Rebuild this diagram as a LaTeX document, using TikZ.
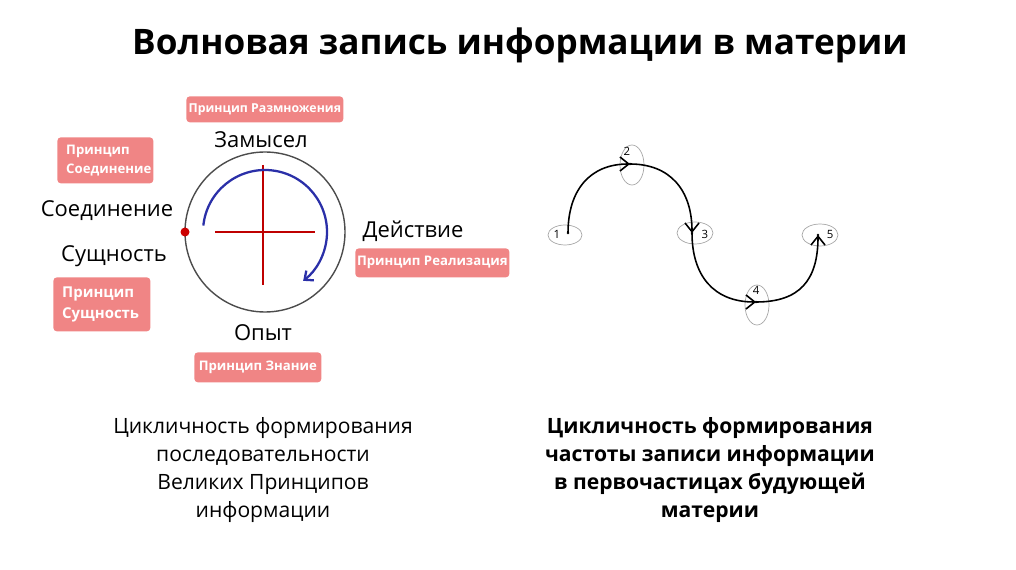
\documentclass[tikz,border=0pt]{standalone}
\usepackage{fontspec}
\setmainfont{Open Sans}
\usetikzlibrary{arrows.meta,calc}
\definecolor{boxc}{HTML}{F08585}
\definecolor{arcb}{HTML}{2A2FA8}
\begin{document}
\begin{tikzpicture}[x=0.02cm,y=-0.02cm,
  pbox/.style={fill=boxc,rounded corners=2pt,text=white,font=\fontsize{7.5}{9}\selectfont\bfseries,align=left,inner sep=0pt,anchor=north west},
  lab/.style={font=\fontsize{12.5}{14}\selectfont},
  btext/.style={font=\fontsize{12}{16}\selectfont,align=center},
  ell/.style={draw=gray!70,line width=0.4pt},
  wave/.style={line width=0.9pt,-{Straight Barb[length=5pt,width=8pt]}},
  num/.style={font=\fontsize{6.5}{7}\selectfont}]
\useasboundingbox (0,0) rectangle (1016,570);
\node[font=\fontsize{20}{24}\selectfont\bfseries] (title) at (520,45) {Волновая запись информации в материи};
% circle
\coordinate (c) at (265,232);
\draw[gray!60!black,line width=0.8pt] (c) circle[radius=80];
\draw[red!75!black,line width=0.6pt] (215,232) -- (315,232) (263,165) -- (263,285);
\draw[arcb,line width=1.3pt,-{Straight Barb[length=4pt,width=7pt]}] ($(c)+(-174:62)$) arc[start angle=-174,end angle=52,radius=62];
\fill[red!80!black] (185,232) circle[radius=4.5];
% boxes
\node[pbox,minimum width=157*0.02cm,minimum height=26*0.02cm] (b1) at (186,96) {};
\node[text=white,font=\fontsize{7}{9}\selectfont\bfseries] at (b1.center) {Принцип Размножения};
\node[pbox,minimum width=96*0.02cm,minimum height=46*0.02cm] (b2) at (57,137) {};
\node[text=white,font=\fontsize{7.5}{11}\selectfont\bfseries,align=left,anchor=west] at ($(b2.west)+(3,0)$) {Принцип\\Соединение};
\node[pbox,minimum width=154*0.02cm,minimum height=29*0.02cm] (b3) at (355,248) {};
\node[text=white,font=\fontsize{7.5}{9}\selectfont\bfseries] at (b3.center) {Принцип Реализация};
\node[pbox,minimum width=97*0.02cm,minimum height=54*0.02cm] (b4) at (53,277) {};
\node[text=white,font=\fontsize{8.5}{12}\selectfont\bfseries,align=left,anchor=west] at ($(b4.west)+(3,0)$) {Принцип\\Сущность};
\node[pbox,minimum width=127*0.02cm,minimum height=30*0.02cm] (b5) at (194,352) {};
\node[text=white,font=\fontsize{7.5}{9}\selectfont\bfseries] at (b5.center) {Принцип Знание};
% labels
\node[lab] (l1) at (261,140) {Замысел};
\node[lab] (l2) at (107,211) {Соединение};
\node[lab] (l3) at (114,256) {Сущность};
\node[lab] (l4) at (413,231) {Действие};
\node[lab] (l5) at (263,333) {Опыт};
% bottom texts
\node[btext] (t1) at (263,470) {Цикличность формирования\\последовательности\\Великих Принципов\\информации};
\node[btext,font=\fontsize{12}{16}\selectfont\bfseries] (t2) at (710,470) {Цикличность формирования\\частоты записи информации\\в первочастицах будующей\\материи};
% wave
\coordinate (p1) at (568,233);
\coordinate (p2) at (630,164);
\coordinate (p3) at (692,233);
\coordinate (p4) at (756,302);
\coordinate (p5) at (818,235);
\draw[ell] (565,235) ellipse[x radius=17,y radius=10];
\draw[ell] (632,165) ellipse[x radius=12,y radius=20];
\draw[ell] (695,233) ellipse[x radius=18,y radius=11];
\draw[ell] (757,305) ellipse[x radius=12,y radius=20];
\draw[ell] (820,235) ellipse[x radius=18,y radius=11];
\draw[wave] (p1) .. controls (568,190) and (590,164) .. (p2);
\draw[wave] (p2) .. controls (670,164) and (692,190) .. (p3);
\draw[wave] (p3) .. controls (692,276) and (714,302) .. (p4);
\draw[wave] (p4) .. controls (800,302) and (818,280) .. (p5);
\foreach \p in {p1,p2,p3,p4,p5} \fill (\p) circle[radius=1.3];
\node[num] at (557,234) {1};
\node[num] at (627,151) {2};
\node[num] at (705,234) {3};
\node[num] at (756,290) {4};
\node[num] at (830,234) {5};
\end{tikzpicture}
\end{document}
